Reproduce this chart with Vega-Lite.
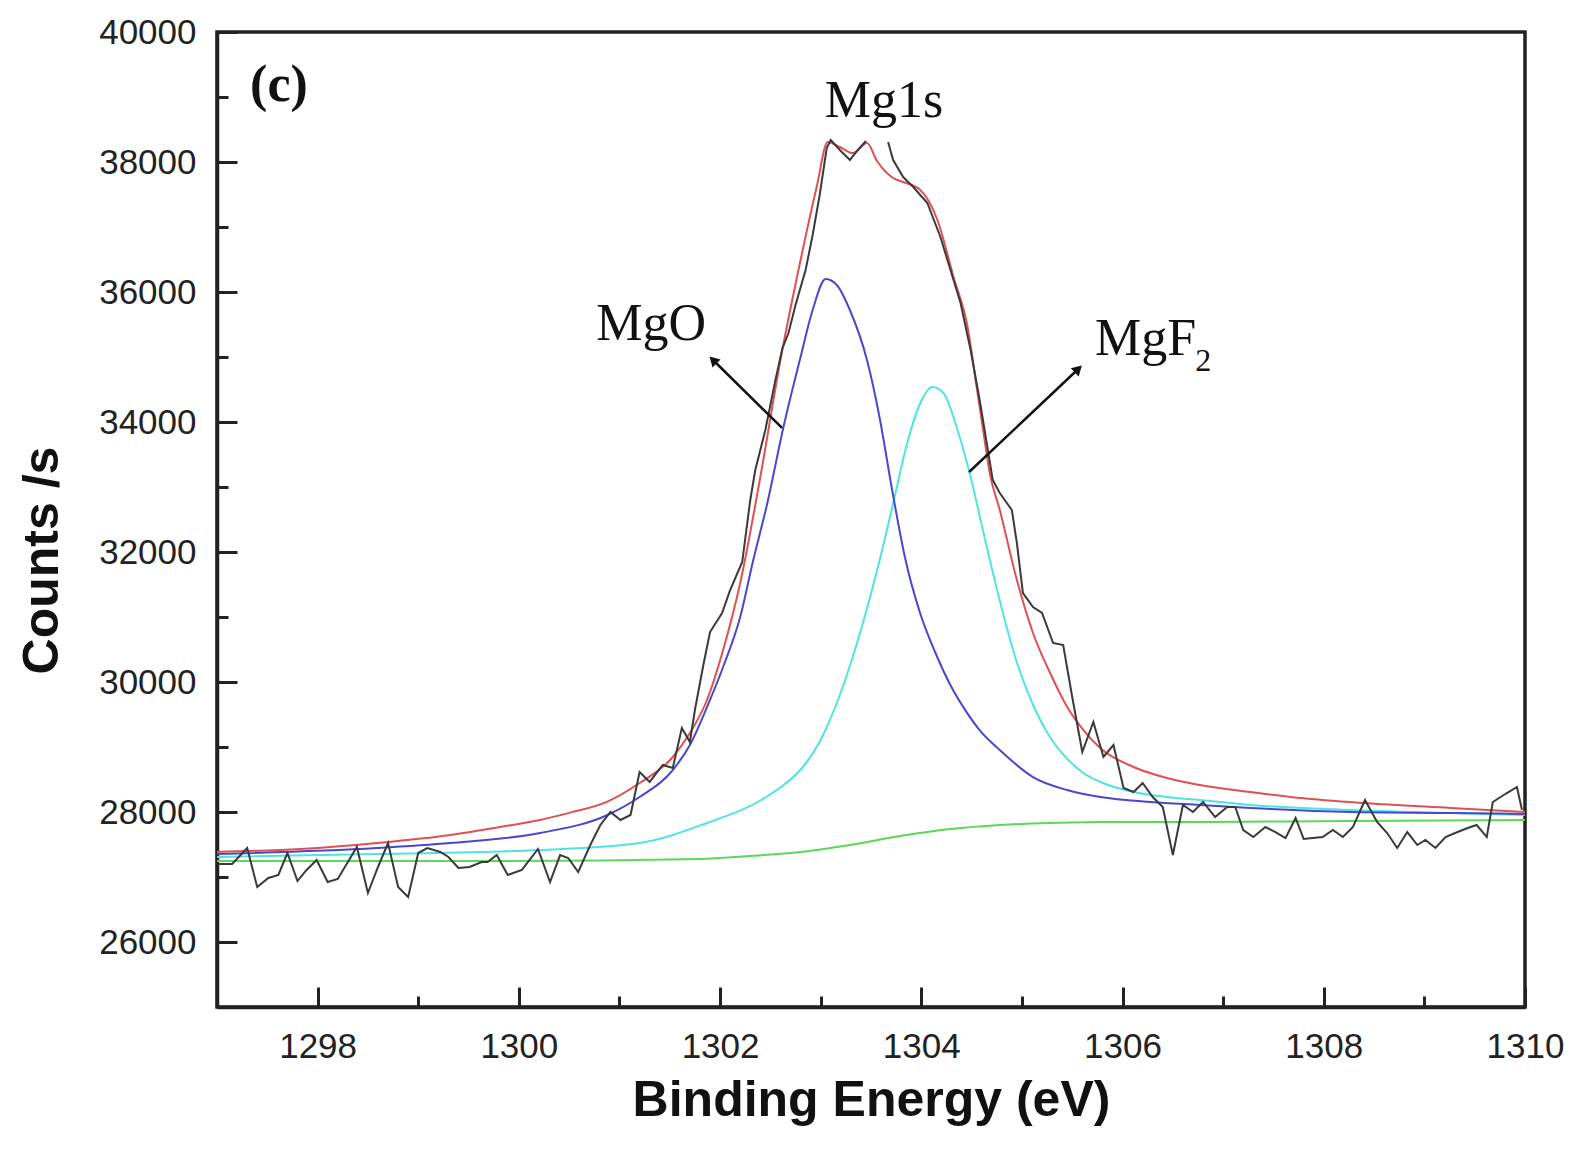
{
  "$schema": "https://vega.github.io/schema/vega-lite/v6.json",
  "width": 1308,
  "height": 975,
  "autosize": "none",
  "padding": {"left": 217, "top": 32, "right": 50, "bottom": 147},
  "background": "white",
  "config": {
    "view": {"stroke": "#222", "strokeWidth": 3.5},
    "axis": {"grid": false}
  },
  "datasets": {
    "obs": [
      {"E":1297.01,"v":27200,"seg":"a"},{"E":1297.15,"v":27200,"seg":"a"},{"E":1297.30,"v":27446,"seg":"a"},{"E":1297.40,"v":26846,"seg":"a"},
      {"E":1297.51,"v":26985,"seg":"a"},{"E":1297.61,"v":27031,"seg":"a"},{"E":1297.70,"v":27369,"seg":"a"},{"E":1297.80,"v":26938,"seg":"a"},
      {"E":1297.89,"v":27108,"seg":"a"},{"E":1297.99,"v":27262,"seg":"a"},{"E":1298.10,"v":26923,"seg":"a"},{"E":1298.20,"v":26969,"seg":"a"},
      {"E":1298.39,"v":27462,"seg":"a"},{"E":1298.50,"v":26754,"seg":"a"},{"E":1298.60,"v":27154,"seg":"a"},{"E":1298.70,"v":27523,"seg":"a"},
      {"E":1298.80,"v":26846,"seg":"a"},{"E":1298.90,"v":26692,"seg":"a"},{"E":1299.00,"v":27369,"seg":"a"},{"E":1299.09,"v":27446,"seg":"a"},
      {"E":1299.22,"v":27385,"seg":"a"},{"E":1299.30,"v":27308,"seg":"a"},{"E":1299.40,"v":27138,"seg":"a"},{"E":1299.51,"v":27154,"seg":"a"},
      {"E":1299.63,"v":27231,"seg":"a"},{"E":1299.69,"v":27231,"seg":"a"},{"E":1299.78,"v":27338,"seg":"a"},{"E":1299.89,"v":27031,"seg":"a"},
      {"E":1300.03,"v":27108,"seg":"a"},{"E":1300.19,"v":27431,"seg":"a"},{"E":1300.31,"v":26923,"seg":"a"},{"E":1300.41,"v":27338,"seg":"a"},
      {"E":1300.49,"v":27292,"seg":"a"},{"E":1300.59,"v":27077,"seg":"a"},{"E":1300.71,"v":27492,"seg":"a"},{"E":1300.81,"v":27800,"seg":"a"},
      {"E":1300.91,"v":28000,"seg":"a"},{"E":1301.01,"v":27877,"seg":"a"},{"E":1301.11,"v":27954,"seg":"a"},{"E":1301.20,"v":28615,"seg":"a"},
      {"E":1301.30,"v":28462,"seg":"a"},{"E":1301.43,"v":28723,"seg":"a"},{"E":1301.53,"v":28677,"seg":"a"},{"E":1301.62,"v":29292,"seg":"a"},
      {"E":1301.70,"v":29077,"seg":"a"},{"E":1301.75,"v":29569,"seg":"a"},{"E":1301.83,"v":30231,"seg":"a"},{"E":1301.90,"v":30769,"seg":"a"},
      {"E":1302.02,"v":31062,"seg":"a"},{"E":1302.10,"v":31415,"seg":"a"},{"E":1302.22,"v":31846,"seg":"a"},{"E":1302.30,"v":32800,"seg":"a"},
      {"E":1302.35,"v":33262,"seg":"a"},{"E":1302.45,"v":33877,"seg":"a"},{"E":1302.55,"v":34646,"seg":"a"},{"E":1302.62,"v":35138,"seg":"a"},
      {"E":1302.68,"v":35369,"seg":"a"},{"E":1302.75,"v":35800,"seg":"a"},{"E":1302.85,"v":36338,"seg":"a"},{"E":1302.92,"v":36877,"seg":"a"},
      {"E":1302.99,"v":37492,"seg":"a"},{"E":1303.06,"v":38215,"seg":"a"},{"E":1303.10,"v":38338,"seg":"a"},{"E":1303.19,"v":38185,"seg":"a"},
      {"E":1303.29,"v":38031,"seg":"a"},{"E":1303.37,"v":38185,"seg":"a"},{"E":1303.45,"v":38323,"seg":"a"},
      {"E":1303.67,"v":38308,"seg":"b"},{"E":1303.72,"v":38031,"seg":"b"},{"E":1303.82,"v":37769,"seg":"b"},{"E":1303.92,"v":37615,"seg":"b"},
      {"E":1304.06,"v":37369,"seg":"b"},{"E":1304.19,"v":36846,"seg":"b"},{"E":1304.29,"v":36338,"seg":"b"},{"E":1304.39,"v":35831,"seg":"b"},
      {"E":1304.49,"v":35108,"seg":"b"},{"E":1304.58,"v":34338,"seg":"b"},{"E":1304.65,"v":33677,"seg":"b"},{"E":1304.71,"v":33108,"seg":"b"},
      {"E":1304.78,"v":32908,"seg":"b"},{"E":1304.90,"v":32646,"seg":"b"},{"E":1304.95,"v":32138,"seg":"b"},{"E":1305.01,"v":31369,"seg":"b"},
      {"E":1305.11,"v":31154,"seg":"b"},{"E":1305.20,"v":31062,"seg":"b"},{"E":1305.31,"v":30600,"seg":"b"},{"E":1305.41,"v":30569,"seg":"b"},
      {"E":1305.50,"v":29769,"seg":"b"},{"E":1305.60,"v":28923,"seg":"b"},{"E":1305.71,"v":29385,"seg":"b"},{"E":1305.81,"v":28846,"seg":"b"},
      {"E":1305.91,"v":29031,"seg":"b"},{"E":1306.01,"v":28369,"seg":"b"},{"E":1306.11,"v":28308,"seg":"b"},{"E":1306.20,"v":28446,"seg":"b"},
      {"E":1306.30,"v":28231,"seg":"b"},{"E":1306.40,"v":28077,"seg":"b"},{"E":1306.50,"v":27338,"seg":"b"},{"E":1306.60,"v":28108,"seg":"b"},
      {"E":1306.70,"v":28000,"seg":"b"},{"E":1306.80,"v":28154,"seg":"b"},{"E":1306.92,"v":27923,"seg":"b"},{"E":1307.04,"v":28077,"seg":"b"},
      {"E":1307.12,"v":28077,"seg":"b"},{"E":1307.20,"v":27723,"seg":"b"},{"E":1307.30,"v":27615,"seg":"b"},{"E":1307.42,"v":27769,"seg":"b"},
      {"E":1307.52,"v":27692,"seg":"b"},{"E":1307.62,"v":27600,"seg":"b"},{"E":1307.72,"v":27908,"seg":"b"},{"E":1307.80,"v":27585,"seg":"b"},
      {"E":1307.89,"v":27600,"seg":"b"},{"E":1307.99,"v":27615,"seg":"b"},{"E":1308.09,"v":27723,"seg":"b"},{"E":1308.19,"v":27615,"seg":"b"},
      {"E":1308.29,"v":27769,"seg":"b"},{"E":1308.41,"v":28185,"seg":"b"},{"E":1308.53,"v":27846,"seg":"b"},{"E":1308.63,"v":27677,"seg":"b"},
      {"E":1308.73,"v":27446,"seg":"b"},{"E":1308.83,"v":27692,"seg":"b"},{"E":1308.93,"v":27492,"seg":"b"},{"E":1309.01,"v":27569,"seg":"b"},
      {"E":1309.11,"v":27446,"seg":"b"},{"E":1309.21,"v":27615,"seg":"b"},{"E":1309.33,"v":27692,"seg":"b"},{"E":1309.43,"v":27754,"seg":"b"},
      {"E":1309.52,"v":27800,"seg":"b"},{"E":1309.62,"v":27615,"seg":"b"},{"E":1309.68,"v":28154,"seg":"b"},{"E":1309.82,"v":28292,"seg":"b"},
      {"E":1309.92,"v":28385,"seg":"b"},{"E":1309.97,"v":28031,"seg":"b"}
    ],
    "fit": [
      {"s":"Background","E":1297.0,"v":27246},{"s":"Background","E":1299.81,"v":27246},{"s":"Background","E":1301.80,"v":27277},
      {"s":"Background","E":1302.30,"v":27323},{"s":"Background","E":1302.80,"v":27385},{"s":"Background","E":1303.29,"v":27492},
      {"s":"Background","E":1303.79,"v":27631},{"s":"Background","E":1304.29,"v":27738},{"s":"Background","E":1304.78,"v":27800},
      {"s":"Background","E":1305.28,"v":27831},{"s":"Background","E":1305.78,"v":27846},{"s":"Background","E":1306.77,"v":27846},
      {"s":"Background","E":1308.26,"v":27862},{"s":"Background","E":1310.0,"v":27877},

      {"s":"MgF2","E":1297.0,"v":27308},{"s":"MgF2","E":1298.59,"v":27354},{"s":"MgF2","E":1300.21,"v":27415},{"s":"MgF2","E":1301.20,"v":27523},
      {"s":"MgF2","E":1301.87,"v":27831},{"s":"MgF2","E":1302.37,"v":28150},{"s":"MgF2","E":1302.60,"v":28380},{"s":"MgF2","E":1302.80,"v":28650},
      {"s":"MgF2","E":1302.99,"v":29080},{"s":"MgF2","E":1303.19,"v":29800},{"s":"MgF2","E":1303.39,"v":30750},{"s":"MgF2","E":1303.59,"v":31900},
      {"s":"MgF2","E":1303.72,"v":32750},{"s":"MgF2","E":1303.86,"v":33677},{"s":"MgF2","E":1303.99,"v":34292},{"s":"MgF2","E":1304.11,"v":34538},
      {"s":"MgF2","E":1304.22,"v":34446},{"s":"MgF2","E":1304.36,"v":33877},{"s":"MgF2","E":1304.49,"v":33154},{"s":"MgF2","E":1304.61,"v":32350},
      {"s":"MgF2","E":1304.78,"v":31250},{"s":"MgF2","E":1304.95,"v":30300},{"s":"MgF2","E":1305.11,"v":29650},{"s":"MgF2","E":1305.28,"v":29150},
      {"s":"MgF2","E":1305.45,"v":28820},{"s":"MgF2","E":1305.61,"v":28600},{"s":"MgF2","E":1305.78,"v":28462},{"s":"MgF2","E":1306.11,"v":28308},
      {"s":"MgF2","E":1306.44,"v":28231},{"s":"MgF2","E":1306.77,"v":28185},{"s":"MgF2","E":1307.27,"v":28108},{"s":"MgF2","E":1308.26,"v":28031},
      {"s":"MgF2","E":1309.26,"v":27985},{"s":"MgF2","E":1310.0,"v":27954},

      {"s":"MgO","E":1297.0,"v":27354},{"s":"MgO","E":1298.59,"v":27446},{"s":"MgO","E":1299.32,"v":27523},{"s":"MgO","E":1300.21,"v":27677},
      {"s":"MgO","E":1300.88,"v":27954},{"s":"MgO","E":1301.20,"v":28231},{"s":"MgO","E":1301.53,"v":28646},{"s":"MgO","E":1301.70,"v":29031},
      {"s":"MgO","E":1301.87,"v":29615},{"s":"MgO","E":1302.03,"v":30231},{"s":"MgO","E":1302.20,"v":31000},{"s":"MgO","E":1302.33,"v":31877},
      {"s":"MgO","E":1302.47,"v":32754},{"s":"MgO","E":1302.63,"v":33923},{"s":"MgO","E":1302.80,"v":35000},{"s":"MgO","E":1302.92,"v":35723},
      {"s":"MgO","E":1303.05,"v":36200},{"s":"MgO","E":1303.16,"v":36108},{"s":"MgO","E":1303.29,"v":35723},{"s":"MgO","E":1303.46,"v":34954},
      {"s":"MgO","E":1303.59,"v":34031},{"s":"MgO","E":1303.71,"v":32954},{"s":"MgO","E":1303.84,"v":31900},{"s":"MgO","E":1303.99,"v":31050},
      {"s":"MgO","E":1304.14,"v":30450},{"s":"MgO","E":1304.29,"v":29950},{"s":"MgO","E":1304.44,"v":29560},{"s":"MgO","E":1304.59,"v":29240},
      {"s":"MgO","E":1304.78,"v":28954},{"s":"MgO","E":1305.11,"v":28538},{"s":"MgO","E":1305.45,"v":28338},{"s":"MgO","E":1305.78,"v":28231},
      {"s":"MgO","E":1306.28,"v":28154},{"s":"MgO","E":1306.77,"v":28108},{"s":"MgO","E":1307.27,"v":28062},{"s":"MgO","E":1308.26,"v":28000},
      {"s":"MgO","E":1309.26,"v":27985},{"s":"MgO","E":1310.0,"v":27970},

      {"s":"Envelope","E":1297.0,"v":27385},{"s":"Envelope","E":1297.83,"v":27431},{"s":"Envelope","E":1298.59,"v":27523},{"s":"Envelope","E":1299.32,"v":27646},
      {"s":"Envelope","E":1299.81,"v":27769},{"s":"Envelope","E":1300.21,"v":27877},{"s":"Envelope","E":1300.51,"v":27990},{"s":"Envelope","E":1300.88,"v":28160},
      {"s":"Envelope","E":1301.20,"v":28446},{"s":"Envelope","E":1301.53,"v":28846},{"s":"Envelope","E":1301.70,"v":29215},{"s":"Envelope","E":1301.87,"v":29723},
      {"s":"Envelope","E":1302.03,"v":30492},{"s":"Envelope","E":1302.20,"v":31523},{"s":"Envelope","E":1302.40,"v":33154},{"s":"Envelope","E":1302.60,"v":34954},
      {"s":"Envelope","E":1302.80,"v":36492},{"s":"Envelope","E":1302.96,"v":37615},{"s":"Envelope","E":1303.07,"v":38308},{"s":"Envelope","E":1303.19,"v":38231},
      {"s":"Envelope","E":1303.32,"v":38138},{"s":"Envelope","E":1303.46,"v":38292},{"s":"Envelope","E":1303.56,"v":38015},{"s":"Envelope","E":1303.72,"v":37754},
      {"s":"Envelope","E":1303.82,"v":37692},{"s":"Envelope","E":1303.99,"v":37569},{"s":"Envelope","E":1304.16,"v":37108},{"s":"Envelope","E":1304.32,"v":36231},
      {"s":"Envelope","E":1304.46,"v":35462},{"s":"Envelope","E":1304.55,"v":34538},{"s":"Envelope","E":1304.61,"v":33923},{"s":"Envelope","E":1304.68,"v":33215},
      {"s":"Envelope","E":1304.78,"v":32646},{"s":"Envelope","E":1304.95,"v":31569},{"s":"Envelope","E":1305.11,"v":30754},{"s":"Envelope","E":1305.28,"v":30138},
      {"s":"Envelope","E":1305.45,"v":29615},{"s":"Envelope","E":1305.61,"v":29262},{"s":"Envelope","E":1305.78,"v":28980},{"s":"Envelope","E":1306.11,"v":28692},
      {"s":"Envelope","E":1306.44,"v":28523},{"s":"Envelope","E":1306.77,"v":28415},{"s":"Envelope","E":1307.27,"v":28308},{"s":"Envelope","E":1307.77,"v":28215},
      {"s":"Envelope","E":1308.39,"v":28138},{"s":"Envelope","E":1309.26,"v":28062},{"s":"Envelope","E":1310.0,"v":28000}
    ],
    "arrows": [
      {"name":"MgO","E":1302.616,"v":33908,"E2":1301.93,"v2":34954},
      {"name":"MgF2","E":1304.475,"v":33231,"E2":1305.56,"v2":34815}
    ],
    "labels": [
      {"t":"Mg1s","E":1303.63,"v":38692},
      {"t":"MgO","E":1301.314,"v":35262},
      {"t":"MgF","E":1306.23,"v":35031}
    ]
  },
  "layer": [
    {
      "data": {"name": "fit"},
      "mark": {"type": "line", "strokeWidth": 2, "clip": true, "interpolate": "monotone"},
      "encoding": {
        "x": {
          "field": "E", "type": "quantitative",
          "scale": {"domain": [1297, 1310], "nice": false, "zero": false},
          "axis": {
            "values": [1297,1298,1299,1300,1301,1302,1303,1304,1305,1306,1307,1308,1309,1310],
            "format": "d",
            "labelExpr": "datum.value % 2 === 0 ? datum.label : ''",
            "tickSize": {"condition": {"test": "datum.value % 2 === 0", "value": -20}, "value": -11},
            "tickWidth": 3, "tickColor": "#222",
            "domainColor": "#222", "domainWidth": 3.5,
            "labelPadding": 42, "labelFlush": false, "labelOverlap": false,
            "labelFont": "Liberation Sans", "labelFontSize": 35, "labelColor": "#222",
            "title": "Binding Energy (eV)",
            "titleFont": "Liberation Sans", "titleFontSize": 50, "titleFontWeight": "bold", "titleColor": "#111",
            "titleY": 108, "titleBaseline": "alphabetic"
          }
        },
        "y": {
          "field": "v", "type": "quantitative",
          "scale": {"domain": [25000, 40000], "nice": false, "zero": false},
          "axis": {
            "values": [25000,26000,27000,28000,29000,30000,31000,32000,33000,34000,35000,36000,37000,38000,39000,40000],
            "format": "d",
            "labelExpr": "datum.value % 2000 === 0 && datum.value >= 26000 ? datum.label : ''",
            "tickSize": {"condition": {"test": "datum.value % 2000 === 0", "value": -20}, "value": -11},
            "tickWidth": 3, "tickColor": "#222",
            "domainColor": "#222", "domainWidth": 3.5,
            "labelPadding": 41, "labelFlush": false, "labelOverlap": false,
            "labelFont": "Liberation Sans", "labelFontSize": 35, "labelColor": "#222",
            "title": "Counts /s",
            "titleFont": "Liberation Sans", "titleFontSize": 50, "titleFontWeight": "bold", "titleColor": "#111",
            "titleX": -160, "titleY": 528, "titleAngle": -90, "titleAlign": "center", "titleBaseline": "alphabetic"
          }
        },
        "color": {
          "field": "s", "type": "nominal",
          "scale": {"domain": ["Background", "MgF2", "MgO", "Envelope"], "range": ["#5cd65c", "#4fe3e3", "#4848cc", "#e05050"]},
          "legend": null
        }
      }
    },
    {
      "data": {"name": "obs"},
      "mark": {"type": "line", "strokeWidth": 2, "color": "#3a3a3a", "clip": true},
      "encoding": {
        "x": {"field": "E", "type": "quantitative", "scale": {"domain": [1297, 1310], "nice": false, "zero": false}},
        "y": {"field": "v", "type": "quantitative", "scale": {"domain": [25000, 40000], "nice": false, "zero": false}},
        "detail": {"field": "seg", "type": "nominal"}
      }
    },
    {
      "data": {"name": "arrows"},
      "mark": {"type": "rule", "strokeWidth": 2.5, "color": "#111"},
      "encoding": {
        "x": {"field": "E", "type": "quantitative"},
        "y": {"field": "v", "type": "quantitative"},
        "x2": {"field": "E2"},
        "y2": {"field": "v2"}
      }
    },
    {
      "data": {"name": "arrows"},
      "transform": [{"filter": "datum.name === 'MgO'"}],
      "mark": {"type": "point", "shape": "triangle-up", "filled": true, "size": 130, "color": "#111", "opacity": 1, "angle": 315},
      "encoding": {
        "x": {"field": "E2", "type": "quantitative"},
        "y": {"field": "v2", "type": "quantitative"}
      }
    },
    {
      "data": {"name": "arrows"},
      "transform": [{"filter": "datum.name === 'MgF2'"}],
      "mark": {"type": "point", "shape": "triangle-up", "filled": true, "size": 130, "color": "#111", "opacity": 1, "angle": 46},
      "encoding": {
        "x": {"field": "E2", "type": "quantitative"},
        "y": {"field": "v2", "type": "quantitative"}
      }
    },
    {
      "data": {"name": "labels"},
      "mark": {"type": "text", "font": "Liberation Serif", "fontSize": 52, "color": "#111", "align": "center", "baseline": "alphabetic"},
      "encoding": {
        "x": {"field": "E", "type": "quantitative"},
        "y": {"field": "v", "type": "quantitative"},
        "text": {"field": "t"}
      }
    },
    {
      "data": {"values": [{"t": "2", "E": 1306.722, "v": 34785}]},
      "mark": {"type": "text", "font": "Liberation Serif", "fontSize": 32, "color": "#111", "align": "left", "baseline": "alphabetic"},
      "encoding": {
        "x": {"field": "E", "type": "quantitative"},
        "y": {"field": "v", "type": "quantitative"},
        "text": {"field": "t"}
      }
    },
    {
      "data": {"values": [{"t": "(c)", "E": 1297.616, "v": 38938}]},
      "mark": {"type": "text", "font": "Liberation Serif", "fontSize": 52, "fontWeight": "bold", "color": "#111", "align": "center", "baseline": "alphabetic"},
      "encoding": {
        "x": {"field": "E", "type": "quantitative"},
        "y": {"field": "v", "type": "quantitative"},
        "text": {"field": "t"}
      }
    }
  ]
}
